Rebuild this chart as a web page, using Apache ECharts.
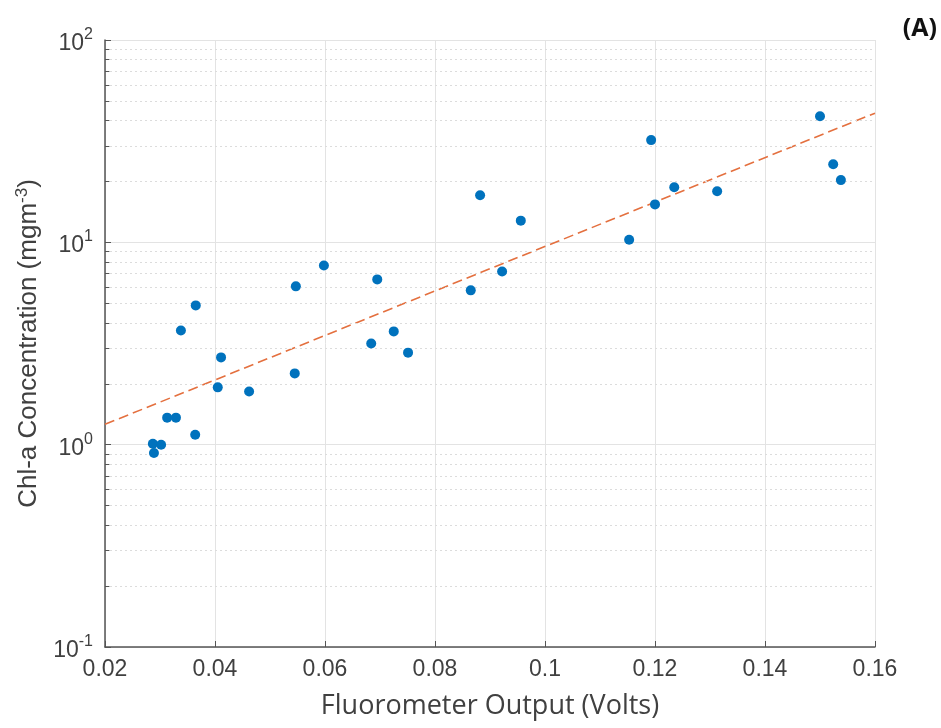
<!DOCTYPE html>
<html>
<head>
<meta charset="utf-8">
<script src="https://cdn.jsdelivr.net/npm/echarts@6/dist/echarts.min.js"></script>
<style>
  html, body { margin: 0; padding: 0; background: #fff; }
  #main { width: 941px; height: 728px; }
</style>
</head>
<body>
<div id="main"></div>
<script>
// fluorometer output (V) vs chl-a (mg m^-3)
var voltage = [0.0287, 0.0289, 0.0302, 0.0313, 0.0329, 0.0364, 0.0338, 0.0365, 0.0405, 0.0411,
  0.0462, 0.0545, 0.0547, 0.0598, 0.0684, 0.0695, 0.0725, 0.0751, 0.0865, 0.0882,
  0.0922, 0.0956, 0.1153, 0.1193, 0.1200, 0.1235, 0.1313, 0.1500, 0.1524, 0.1538];
var chl = [1.01, 0.91, 1.00, 1.36, 1.36, 1.12, 3.67, 4.88, 1.92, 2.70,
  1.83, 2.25, 6.06, 7.69, 3.16, 6.56, 3.63, 2.85, 5.79, 17.1,
  7.18, 12.8, 10.3, 32.0, 15.4, 18.7, 17.9, 42.0, 24.3, 20.3];

// fitted exponential trend (end points)
var fitX = [0.02, 0.16];
var fitY = [1.26, 43.5];

var xTicks = [0.02, 0.04, 0.06, 0.08, 0.1, 0.12, 0.14, 0.16];
var yDecades = [0.1, 1, 10, 100];
var minorSteps = [2, 3, 4, 5, 6, 7, 8, 9];

var minorVals = [];
yDecades.slice(0, 3).forEach(function (d) {
  minorSteps.forEach(function (m) { minorVals.push(d * m); });
});

var minorGrid = minorVals.map(function (v) { return { yAxis: v }; });
// short inward ticks on the left axis
var minorTicks = minorVals.map(function (v) {
  return [{ coord: [xTicks[0], v] }, { coord: [xTicks[0] + 0.0008, v] }];
});

var scatterData = voltage.map(function (x, i) { return [x, chl[i]]; });
var fitData = fitX.map(function (x, i) { return [x, fitY[i]]; });

var chart = echarts.init(document.getElementById('main'));

var option = {
  animation: false,
  backgroundColor: '#fff',
  grid: { left: 105, right: 66, top: 40, bottom: 81 },
  xAxis: {
    type: 'value',
    min: 0.02,
    max: 0.16,
    interval: 0.02,
    name: 'Fluorometer Output (Volts)',
    nameLocation: 'middle',
    nameGap: 46,
    nameTextStyle: { fontFamily: 'Open Sans', fontSize: 27, color: '#404040' },
    axisLine: { lineStyle: { color: '#555', width: 1.5 } },
    axisTick: { inside: true, length: 6, lineStyle: { color: '#555' } },
    axisLabel: {
      margin: 11,
      fontFamily: 'Liberation Sans',
      fontSize: 23,
      color: '#404040',
      formatter: function (v) { return String(parseFloat(v.toFixed(2))); }
    },
    splitLine: { show: true, lineStyle: { color: '#e3e3e3', width: 1 } }
  },
  yAxis: {
    type: 'log',
    logBase: 10,
    min: 0.1,
    max: 100,
    name: '{n|Chl-a Concentration (mgm}{s|-3}{n|)}',
    nameLocation: 'middle',
    nameGap: 57,
    nameTextStyle: {
      rich: {
        n: { fontFamily: 'Liberation Sans', fontSize: 26, color: '#404040' },
        s: { fontFamily: 'Liberation Sans', fontSize: 17, color: '#404040', padding: [0, 0, 13, 0] }
      }
    },
    axisLine: { show: true, lineStyle: { color: '#555', width: 1.5 } },
    axisTick: { inside: true, length: 6, lineStyle: { color: '#555' } },
    axisLabel: {
      margin: 12,
      formatter: function (v) {
        var e = Math.round(Math.log10(v));
        return '{b|10}{s|' + e + '}';
      },
      rich: {
        b: { fontFamily: 'Liberation Sans', fontSize: 23, color: '#404040', padding: [7, 0, 0, 0] },
        s: { fontFamily: 'Liberation Sans', fontSize: 16, color: '#404040', padding: [0, 0, 11, 0] }
      }
    },
    splitLine: { show: true, lineStyle: { color: '#e3e3e3', width: 1 } }
  },
  graphic: [{
    type: 'text',
    right: 4,
    top: 16,
    style: { text: '(A)', font: 'bold 25px "Open Sans"', fill: '#111' }
  }],
  series: [
    {
      name: 'minor',
      type: 'line',
      data: [],
      silent: true,
      z: 1,
      markLine: {
        silent: true,
        symbol: 'none',
        label: { show: false },
        lineStyle: { color: '#dcdcdc', type: [2, 3], width: 1 },
        data: minorGrid
      }
    },
    {
      name: 'minorTicks',
      type: 'line',
      data: [],
      silent: true,
      z: 1,
      markLine: {
        silent: true,
        symbol: 'none',
        label: { show: false },
        lineStyle: { color: '#555', type: 'solid', width: 1 },
        data: minorTicks
      }
    },
    {
      name: 'fit',
      type: 'line',
      showSymbol: false,
      symbol: 'none',
      lineStyle: { color: '#E4703F', width: 1.6, type: [10, 5] },
      data: fitData,
      z: 3
    },
    {
      name: 'data',
      type: 'scatter',
      symbolSize: 10,
      itemStyle: { color: '#0072BD', opacity: 1 },
      data: scatterData,
      z: 5
    }
  ]
};

chart.setOption(option);
</script>
</body>
</html>
